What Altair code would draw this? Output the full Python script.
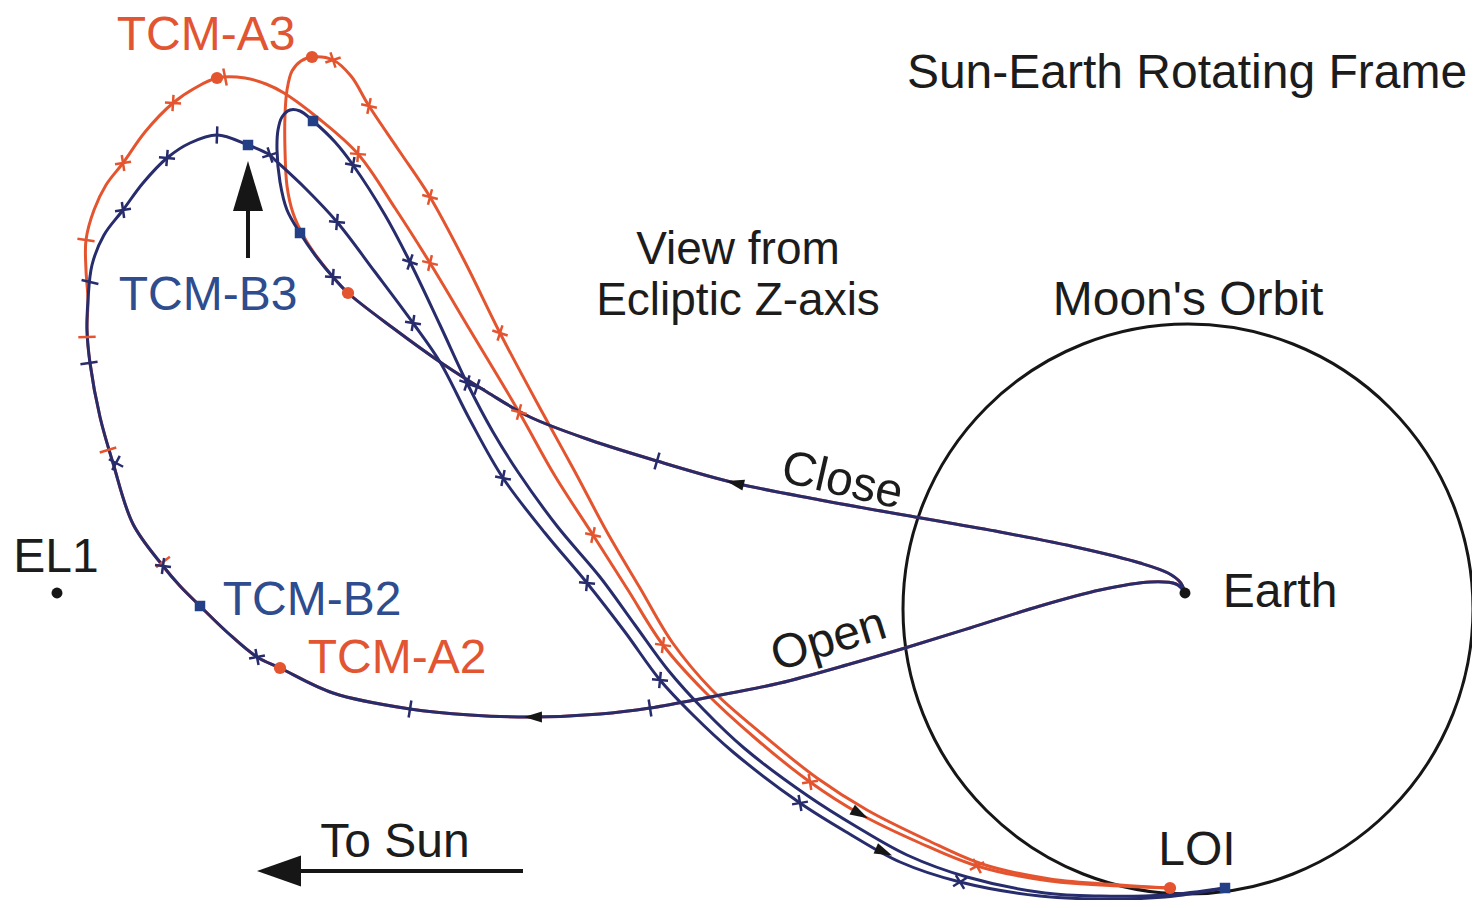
import math
import altair as alt
import pandas as pd

# ---------------- data (pixel coordinates of the figure) ----------------
# shared "Open" leg: Earth -> around the Sun-side loop (TCM-A2 / TCM-B2) -> up the left side
open_leg_x = [1185, 1176, 1150, 1100, 1040, 970, 905, 850, 780, 710, 650, 600, 533, 470, 410, 333, 280, 257, 228, 200, 180, 163, 133, 113, 100, 90, 87, 88]
open_leg_y = [592, 584, 582, 590, 606, 628, 648, 664, 683, 697, 708, 714, 717, 715, 709, 693, 668, 657, 633, 606, 586, 566, 524, 463, 417, 363, 330, 300]

# trajectory B (blue) top arc and its descent to LOI
b_arc_x = [92, 104, 123, 143, 167, 190, 217, 248, 270]
b_arc_y = [265, 235, 210, 183, 158, 143, 135, 145, 155]
b_diag_x = [273, 305, 337, 375, 413, 440, 470, 503, 545, 587, 625, 660, 693, 733, 800, 848, 900, 960, 1040, 1100, 1165, 1225]
b_diag_y = [158, 188, 222, 272, 323, 362, 420, 478, 533, 583, 632, 680, 715, 752, 803, 833, 862, 882, 896, 899, 897, 888]

# trajectory A (red) top arc and its descent to LOI
a_arc_x = [86, 86, 94, 106, 123, 145, 173, 195, 217, 245, 266, 284]
a_arc_y = [270, 240, 210, 185, 163, 132, 103, 88, 78, 78, 84, 93]
a_inner_x = [318, 358, 395, 430, 470, 519, 555, 593, 628, 663, 705, 755, 810, 860, 920, 977, 1050, 1120, 1170]
a_inner_y = [118, 154, 208, 263, 330, 412, 476, 535, 590, 645, 692, 738, 782, 814, 843, 866, 881, 886, 888]

# shared "Close" leg: Earth -> toward the Sun
close_leg_x = [1185, 1180, 1168, 1140, 1080, 1000, 915, 820, 735, 657, 590, 530, 487, 443, 393, 348]
close_leg_y = [592, 582, 573, 563, 548, 532, 517, 500, 483, 461, 440, 417, 392, 364, 328, 293]

# blue hook and descent
b_hook_x = [333, 315, 300, 287, 280, 277, 278, 282, 290, 300, 313]
b_hook_y = [277, 255, 233, 210, 182, 150, 130, 117, 110, 111, 121]
b_close_diag_x = [335, 353, 385, 410, 440, 467, 493, 518, 557, 600, 635, 668, 704, 744, 808, 857, 907, 967, 1045, 1100, 1165, 1225]
b_close_diag_y = [142, 165, 215, 262, 325, 383, 432, 472, 526, 577, 625, 670, 710, 748, 796, 827, 855, 877, 893, 896, 895, 888]

# red hook and descent
a_hook_x = [333, 317, 304, 293, 287, 285, 285, 287, 292, 301, 313, 333, 351, 369]
a_hook_y = [277, 257, 237, 213, 186, 150, 115, 90, 71, 61, 57, 60, 76, 106]
a_outer_x = [400, 430, 465, 500, 541, 574, 607, 640, 672, 712, 762, 817, 867, 927, 982, 1050, 1120, 1170]
a_outer_y = [152, 197, 262, 333, 410, 470, 532, 588, 642, 690, 734, 778, 810, 840, 864, 879, 885, 888]

# tick marks along the trajectories: (trajectory, x, y, kind)
navy_ticks = [
    ("b_open", 650, 708, "bar"), ("b_open", 410, 709, "bar"), ("b_open", 257, 657, "x"),
    ("b_open", 163, 566, "x"), ("b_open", 116, 463, "x"), ("b_open", 89, 363, "bar"),
    ("b_open", 90, 282, "bar"), ("b_open", 123, 210, "x"), ("b_open", 167, 158, "x"),
    ("b_open", 217, 135, "bar"), ("b_open", 270, 155, "x"), ("b_open", 337, 222, "x"),
    ("b_open", 413, 323, "x"), ("b_open", 503, 478, "x"), ("b_open", 587, 583, "x"),
    ("b_open", 660, 680, "x"), ("b_open", 800, 803, "x"), ("b_open", 960, 882, "x"),
    ("b_close", 353, 165, "x"), ("b_close", 410, 262, "x"), ("b_close", 467, 383, "x"),
    ("b_close", 333, 277, "x"), ("b_close", 477, 387, "x"), ("b_close", 657, 461, "bar"),
]
red_ticks = [
    ("a_open", 163, 562, "bar"), ("a_open", 108, 450, "bar"), ("a_open", 87, 337, "bar"),
    ("a_open", 86, 240, "bar"), ("a_open", 123, 163, "x"), ("a_open", 173, 103, "x"),
    ("a_open", 225, 77, "bar"), ("a_open", 358, 154, "x"), ("a_open", 430, 263, "x"),
    ("a_open", 519, 412, "x"), ("a_open", 593, 535, "x"), ("a_open", 663, 645, "x"),
    ("a_open", 810, 782, "x"), ("a_open", 977, 866, "x"),
    ("a_close", 333, 60, "x"), ("a_close", 369, 106, "x"), ("a_close", 430, 197, "x"),
    ("a_close", 500, 333, "x"),
]

# dots (TCM points, LOI), arrowheads along the flight direction
red_dot_x = [217, 312, 348, 280, 1170]
red_dot_y = [78, 57, 293, 668, 888]
navy_dot_x = [248, 313, 300, 200, 1225]
navy_dot_y = [145, 121, 233, 606, 888]
earth_xy = (1185, 593)
el1_xy = (57, 593)
flow_arrows = [("b_close", 735, 483), ("b_open", 533, 717), ("a_open", 860, 814), ("b_open", 884, 852)]

moon_orbit_center = (1188, 609)
moon_orbit_diameter = 570

labels_text = ["TCM-A3", "Sun-Earth Rotating Frame", "View from", "Ecliptic Z-axis", "Moon's Orbit",
               "TCM-B3", "EL1", "TCM-B2", "TCM-A2", "Earth", "LOI", "To Sun", "Close", "Open"]
labels_x = [206, 1187, 738, 738, 1188, 208, 56, 312, 397, 1280, 1197, 395, 839, 833]
labels_y = [50, 88, 264, 315, 315, 310, 572, 615, 673, 607, 865, 857, 495, 654]
labels_kind = ["red", "black", "black", "black", "black", "blue", "black", "blue", "red", "black", "black", "black", "black", "black"]
labels_angle = [0, 0, 0, 0, 0, 0, 0, 0, 0, 0, 0, 0, 13, 343]

# ---------------- styling ----------------
RED = "#e4552f"
NAVY = "#272c6c"
BLUE_TEXT = "#2e4c8e"
BLACK = "#161616"
FONT = "Liberation Sans"
text_colors = {"red": "#e25532", "blue": BLUE_TEXT, "black": "#1c1c1c"}
label_sizes = {"View from": 46, "Ecliptic Z-axis": 46}

paths = {
    "a_open": (open_leg_x + a_arc_x + a_inner_x, open_leg_y + a_arc_y + a_inner_y),
    "a_close": (close_leg_x + a_hook_x + a_outer_x, close_leg_y + a_hook_y + a_outer_y),
    "b_open": (open_leg_x + b_arc_x + b_diag_x, open_leg_y + b_arc_y + b_diag_y),
    "b_close": (close_leg_x + b_hook_x + b_close_diag_x, close_leg_y + b_hook_y + b_close_diag_y),
}


def path_frame(names):
    rows = []
    for n in names:
        xs, ys = paths[n]
        for i, (x, y) in enumerate(zip(xs, ys)):
            rows.append({"traj": n, "i": i, "x": x, "y": y})
    return pd.DataFrame(rows)


def heading(name, tx, ty):
    xs, ys = paths[name]
    k = min(range(len(xs)), key=lambda j: (xs[j] - tx) ** 2 + (ys[j] - ty) ** 2)
    a, b = max(k - 1, 0), min(k + 1, len(xs) - 1)
    return math.degrees(math.atan2(ys[b] - ys[a], xs[b] - xs[a])) % 360


def tick_frame(ticks, kind):
    rows = []
    for n, x, y, k in ticks:
        if k == kind:
            rows.append({"x": x, "y": y, "ang": heading(n, x, y)})
    return pd.DataFrame(rows)


X = alt.X("x:Q", scale=alt.Scale(domain=[8, 1472]), axis=None)
Y = alt.Y("y:Q", scale=alt.Scale(domain=[8, 900], reverse=True), axis=None)

layers = []

# Moon's orbit
orbit = pd.DataFrame({"x": [moon_orbit_center[0]], "y": [moon_orbit_center[1]]})
layers.append(alt.Chart(orbit).mark_point(shape="circle", filled=False, color=BLACK, strokeWidth=3,
                                          size=moon_orbit_diameter ** 2, opacity=1).encode(x=X, y=Y))

# trajectories: red below, navy on top
layers.append(alt.Chart(path_frame(["a_open", "a_close"])).mark_line(
    interpolate="catmull-rom", color=RED, strokeWidth=3).encode(x=X, y=Y, detail="traj:N", order="i:Q"))
layers.append(alt.Chart(path_frame(["b_open", "b_close"])).mark_line(
    interpolate="catmull-rom", color=NAVY, strokeWidth=3).encode(x=X, y=Y, detail="traj:N", order="i:Q"))

# tick marks
ANG = alt.Angle("ang:Q", scale=None)
for ticks, col in [(red_ticks, RED), (navy_ticks, NAVY)]:
    bars = tick_frame(ticks, "bar")
    xs_ = tick_frame(ticks, "x")
    layers.append(alt.Chart(bars).mark_point(shape="M0,-1L0,1", filled=False, color=col, strokeWidth=2.5,
                                             size=300, opacity=1).encode(x=X, y=Y, angle=ANG))
    layers.append(alt.Chart(xs_).mark_point(shape="M-1,-1L1,1M-1,1L1,-1", filled=False, color=col,
                                            strokeWidth=2.5, size=130, opacity=1).encode(x=X, y=Y, angle=ANG))

# flight-direction arrowheads
arr = pd.DataFrame([{"x": x, "y": y, "ang": heading(n, x, y)} for n, x, y in flow_arrows])
layers.append(alt.Chart(arr).mark_point(shape="M1,0L-1,-0.62L-1,0.62Z", filled=True, color=BLACK,
                                        size=320, opacity=1).encode(x=X, y=Y, angle=ANG))

# TCM dots
layers.append(alt.Chart(pd.DataFrame({"x": red_dot_x, "y": red_dot_y})).mark_point(
    shape="circle", filled=True, color=RED, size=150, opacity=1).encode(x=X, y=Y))
layers.append(alt.Chart(pd.DataFrame({"x": navy_dot_x, "y": navy_dot_y})).mark_point(
    shape="square", filled=True, color="#233f86", size=110, opacity=1).encode(x=X, y=Y))
layers.append(alt.Chart(pd.DataFrame({"x": [earth_xy[0], el1_xy[0]], "y": [earth_xy[1], el1_xy[1]]})).mark_point(
    shape="circle", filled=True, color=BLACK, size=120, opacity=1).encode(x=X, y=Y))

# TCM-B3 pointer arrow
ptr = pd.DataFrame({"x": [248], "y": [258], "y2": [205]})
layers.append(alt.Chart(ptr).mark_rule(color=BLACK, strokeWidth=4).encode(x=X, y=Y, y2="y2:Q"))
layers.append(alt.Chart(pd.DataFrame({"x": [248], "y": [186]})).mark_point(
    shape="M0,-1L0.6,1L-0.6,1Z", filled=True, color=BLACK, size=2500, opacity=1).encode(x=X, y=Y))

# "To Sun" arrow
sun = pd.DataFrame({"x": [523], "x2": [298], "y": [871]})
layers.append(alt.Chart(sun).mark_rule(color=BLACK, strokeWidth=4).encode(x=X, x2="x2:Q", y=Y))
layers.append(alt.Chart(pd.DataFrame({"x": [279], "y": [871]})).mark_point(
    shape="M-1,0L1,-0.7L1,0.7Z", filled=True, color=BLACK, size=1936, opacity=1).encode(x=X, y=Y))

# labels
lab = pd.DataFrame({"t": labels_text, "x": labels_x, "y": labels_y,
                    "c": [text_colors[k] for k in labels_kind], "ang": labels_angle,
                    "fs": [label_sizes.get(t, 48) for t in labels_text]})
layers.append(alt.Chart(lab).mark_text(font=FONT, align="center", baseline="alphabetic").encode(
    x=X, y=Y, text="t:N", color=alt.Color("c:N", scale=None), angle=ANG,
    size=alt.Size("fs:Q", scale=None, legend=None)))

chart = alt.layer(*layers).properties(
    width=1464, height=892, padding=0, autosize=alt.AutoSizeParams(type="none"), background="white"
).configure_view(stroke=None)

chart.save("out.html", embed_options={"renderer": "svg", "actions": False})
